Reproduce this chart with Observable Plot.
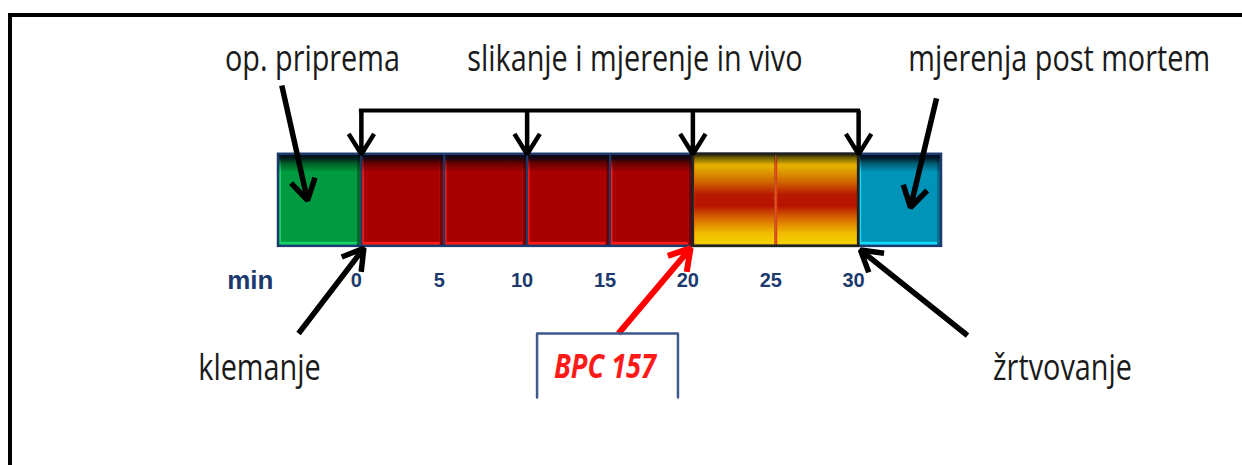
<!DOCTYPE html>
<html><head><meta charset="utf-8">
<script src="https://cdn.jsdelivr.net/npm/d3@7"></script>
<script src="https://cdn.jsdelivr.net/npm/@observablehq/plot@0.6"></script>
<style>
html,body{margin:0;padding:0;background:#fff;}
#wrap{position:relative;width:1242px;height:465px;overflow:hidden;}
#frame{position:absolute;left:8px;top:13px;width:1300px;height:500px;border-top:4px solid #000;border-left:4px solid #000;pointer-events:none;}
svg{display:block;}
</style></head><body><div id="wrap"><div id="frame"></div></div>
<script>
// ---- data ----
const segStart = [-5, 0, 5, 10, 15, 20, 25, 30];
const segEnd   = [0, 5, 10, 15, 20, 25, 30, 35];
const segPhase = ["prep", "vivo", "vivo", "vivo", "vivo", "bpc", "bpc", "mortem"];
const tickValues = [0, 5, 10, 15, 20, 25, 30];
const tickLabels = ["0", "5", "10", "15", "20", "25", "30"];
const unitLabel = "min";
const unitX = -6.7;
const bracketTimes = [0, 10, 20, 30];
const bracketLevel = 1.475;
const topLabels = ["op. priprema", "slikanje i mjerenje in vivo", "mjerenja post mortem"];
const topLabelX = [-2.95, 16.5, 42.1];
const topLabelLevel = 2.03;
const bottomLabels = ["klemanje", "žrtvovanje"];
const bottomLabelX = [-6.15, 42.3];
const bottomLabelLevel = -1.33;
const tickLevel = -0.37;
const bpcLabel = "BPC 157";
const bpcLabelX = 14.7;
const bpcLabelLevel = -1.31;
const bpcBox = [[10.6, -1.641], [10.6, -0.946], [19.1, -0.946], [19.1, -1.641]];
// arrows: [x1, y1, x2, y2]
const blackArrows = [
  [-4.8, 1.747, -3.25, 0.50],    // op. priprema
  [34.7, 1.606, 33.13, 0.422],   // mjerenja post mortem
  [-3.79, -0.946, 0.15, -0.02],  // klemanje
  [36.57, -0.968, 30.11, -0.04]  // žrtvovanje
];
const redArrows = [
  [15.51, -0.946, 19.86, -0.02]  // BPC 157
];

// ---- styles ----
const xDomain = [-5, 35], xRange = [278, 941];
const yDomain = [-2.38, 2.67], yRange = [465, 0];
const yPx = d3.scaleLinear(yDomain, yRange);
const faceColor  = {prep: "#009a40", vivo: "#a80000", mortem: "#0094b8"};
const lightColor = {prep: "#14d468", vivo: "#ff1a14", mortem: "#14dcff"};
const darkColor  = {prep: "#006a2c", vivo: "#760000", mortem: "#006f8e"};
const labelFont = "'Open Sans', 'DejaVu Sans Condensed', sans-serif";
const navy = "#1c3a6e";
const squeeze = 0.8;

const idx = d3.range(segStart.length);
const plain = idx.filter(i => segPhase[i] !== "bpc");
const bpc = idx.filter(i => segPhase[i] === "bpc");
const sx1 = i => segStart[i], sx2 = i => segEnd[i];

const chart = Plot.plot({
  width: 1242, height: 465,
  marginTop: 0, marginRight: 0, marginBottom: 0, marginLeft: 0,
  x: {domain: xDomain, range: xRange, axis: null},
  y: {domain: yDomain, range: yRange, axis: null},
  color: {type: "identity"},
  style: {background: "transparent", overflow: "visible"},
  marks: [
    // bevelled segments (plain)
    Plot.rect(plain, {x1: sx1, x2: sx2, y1: 0, y2: 1, fill: i => darkColor[segPhase[i]]}),
    Plot.rect(plain, {x1: sx1, x2: sx2, y1: 0, y2: 1, insetRight: 4, fill: i => lightColor[segPhase[i]]}),
    Plot.rect(plain, {x1: sx1, x2: sx2, y1: 0, y2: 1, insetLeft: 3, insetRight: 4, insetBottom: 4, fill: i => faceColor[segPhase[i]]}),
    Plot.rect(plain, {x1: sx1, x2: sx2, y1: 0, y2: 1, fill: () => "url(#topShade)"}),
    // BPC segments
    Plot.rect(bpc, {x1: sx1, x2: sx2, y1: 0, y2: 1, fill: () => "#ff3000"}),
    Plot.rect(bpc, {x1: sx1, x2: sx2, y1: 0, y2: 1, insetLeft: 2, insetRight: 1, fill: () => "url(#bpcGrad)"}),
    Plot.rect(bpc, {x1: sx1, x2: sx2, y1: 0, y2: 1, fill: () => "url(#bpcTop)"}),
    // separators
    Plot.ruleX(idx.slice(1).filter(i => segPhase[i] !== "bpc" || segPhase[i - 1] !== "bpc"), {x: sx1, y1: 0, y2: 1, stroke: navy, strokeWidth: 2}),
    Plot.ruleX(bpc.filter(i => segPhase[i - 1] === "bpc"), {x: sx1, y1: 0, y2: 1, stroke: "#9a6a3a", strokeWidth: 1.5, strokeOpacity: 0.8}),
    // outline
    Plot.rect([0], {x1: xDomain[0], x2: xDomain[1], y1: 0, y2: 1, fill: "none", stroke: navy, strokeWidth: 2.5}),
    Plot.rect([0], {x1: segStart[bpc[0]], x2: segEnd[bpc[bpc.length - 1]], y1: 0, y2: 1, fill: "none", stroke: "#22221a", strokeWidth: 2.5}),
    // bracket
    Plot.ruleY([bracketLevel], {x1: bracketTimes[0], x2: bracketTimes[bracketTimes.length - 1], stroke: "#000", strokeWidth: 4, strokeLinecap: "square"}),
    Plot.arrow(bracketTimes, {
      x1: d => d, x2: d => d, y1: yDomain[1], y2: 1,
      insetStart: yPx(bracketLevel) - yPx(yDomain[1]),
      stroke: "#000", strokeWidth: 4.5, headLength: 8, headAngle: 64,
      strokeLinejoin: "miter", strokeLinecap: "butt"
    }),
    // pointer arrows
    Plot.arrow(blackArrows, {
      x1: d => d[0], y1: d => d[1], x2: d => d[2], y2: d => d[3],
      stroke: "#000", strokeWidth: 5.5, headLength: 6.5, headAngle: 62,
      strokeLinejoin: "miter", strokeLinecap: "butt"
    }),
    Plot.arrow(redArrows, {
      x1: d => d[0], y1: d => d[1], x2: d => d[2], y2: d => d[3],
      stroke: "#ff0000", strokeWidth: 6, headLength: 6, headAngle: 62,
      strokeLinejoin: "miter", strokeLinecap: "butt"
    }),
    // BPC callout box
    Plot.line(bpcBox, {x: d => d[0], y: d => d[1], stroke: "#3e5a8c", strokeWidth: 2.5, curve: "linear"}),
    Plot.text([bpcLabel], {x: bpcLabelX, y: bpcLabelLevel, text: d => d, fill: "#ff1a1a",
      fontSize: 34, fontWeight: "bold", fontStyle: "italic", fontFamily: labelFont, textAnchor: "middle", lineAnchor: "middle"}),
    // time axis labels
    Plot.text(tickValues, {x: d => d, y: tickLevel, text: (d, i) => tickLabels[i], dx: -5, fill: navy,
      fontSize: 20, fontWeight: "bold", fontFamily: "'Liberation Sans', sans-serif", textAnchor: "middle", lineAnchor: "middle"}),
    Plot.text([unitLabel], {x: unitX, y: tickLevel, text: d => d, fill: navy,
      fontSize: 26, fontWeight: "bold", fontFamily: "'Liberation Sans', sans-serif", textAnchor: "middle", lineAnchor: "middle"}),
    // phase labels
    Plot.text(topLabels, {x: (d, i) => topLabelX[i], y: topLabelLevel, text: d => d, fill: "#1a1a1a",
      fontSize: 36, fontFamily: labelFont, textAnchor: "middle", lineAnchor: "middle"}),
    Plot.text(bottomLabels, {x: (d, i) => bottomLabelX[i], y: bottomLabelLevel, text: d => d, fill: "#1a1a1a",
      fontSize: 36, fontFamily: labelFont, textAnchor: "middle", lineAnchor: "middle"})
  ]
});

const defs = document.createElementNS("http://www.w3.org/2000/svg", "defs");
defs.innerHTML = `
<linearGradient id="bpcGrad" x1="0" y1="0" x2="0" y2="1">
  <stop offset="0" stop-color="#e6c200"/>
  <stop offset="0.14" stop-color="#e4b000"/>
  <stop offset="0.3" stop-color="#d06a00"/>
  <stop offset="0.44" stop-color="#b81a00"/>
  <stop offset="0.56" stop-color="#b81200"/>
  <stop offset="0.7" stop-color="#d86800"/>
  <stop offset="0.86" stop-color="#f0bc00"/>
  <stop offset="1" stop-color="#f8d400"/>
</linearGradient>
<linearGradient id="topShade" x1="0" y1="0" x2="0" y2="1">
  <stop offset="0" stop-color="#020818" stop-opacity="0.97"/>
  <stop offset="0.05" stop-color="#020818" stop-opacity="0.85"/>
  <stop offset="0.1" stop-color="#000000" stop-opacity="0.4"/>
  <stop offset="0.2" stop-color="#000000" stop-opacity="0"/>
  <stop offset="1" stop-color="#000000" stop-opacity="0"/>
</linearGradient>
<linearGradient id="bpcTop" x1="0" y1="0" x2="0" y2="1">
  <stop offset="0" stop-color="#14140a" stop-opacity="0.95"/>
  <stop offset="0.05" stop-color="#14140a" stop-opacity="0.5"/>
  <stop offset="0.12" stop-color="#000" stop-opacity="0"/>
  <stop offset="1" stop-color="#000" stop-opacity="0"/>
</linearGradient>`;
chart.insertBefore(defs, chart.firstChild);
document.getElementById("wrap").insertBefore(chart, document.getElementById("frame"));

// condense the label fonts horizontally (as in the original slide)
chart.querySelectorAll('g[font-family*="Open Sans"] text').forEach(t => {
  const len = t.getComputedTextLength();
  t.setAttribute("textLength", (len * squeeze).toFixed(1));
  t.setAttribute("lengthAdjust", "spacingAndGlyphs");
});
</script>
</body></html>
